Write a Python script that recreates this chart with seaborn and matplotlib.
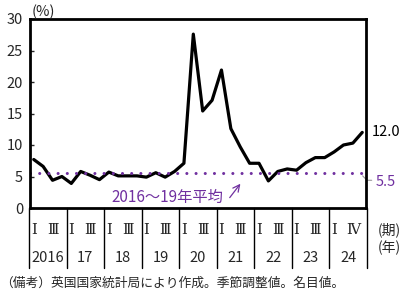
import matplotlib
matplotlib.use("Agg")
import matplotlib.pyplot as plt
import matplotlib.transforms as mtransforms
import seaborn as sns
import pandas as pd
import numpy as np

sns.set_theme(style="white")
plt.rcParams['font.family'] = ['Noto Sans CJK JP', 'DejaVu Sans']

# ---- data ----
years = ["2016", "17", "18", "19", "20", "21", "22", "23", "24"]
quarter_labels = ["Ⅰ", "Ⅲ"]
last_year_quarter_labels = ["Ⅰ", "Ⅳ"]
values = [7.7, 6.6, 4.4, 5.0, 3.9, 5.8, 5.2, 4.5,
          5.7, 5.1, 5.1, 5.1, 4.9, 5.6, 4.9, 5.8,
          7.1, 27.6, 15.4, 17.1, 21.9, 12.6, 9.7, 7.1,
          7.1, 4.3, 5.8, 6.2, 6.0, 7.2, 8.0, 8.0,
          8.9, 10.0, 10.3, 12.0]
average_value = 5.5
average_label = "2016～19年平均"
yticks = [0, 5, 10, 15, 20, 25, 30]
note = "（備考）英国国家統計局により作成。季節調整値。名目値。"

purple = "#7030A0"

df = pd.DataFrame({"t": np.arange(len(values)), "v": values})

fig = plt.figure(figsize=(4.04, 2.95), dpi=100)
ax = fig.add_axes([30/404, 1-208/295, 336/404, 189/295])

sns.lineplot(data=df, x="t", y="v", ax=ax, color="black", lw=2.3)

ax.axhline(average_value, color=purple, lw=2.2,
           linestyle=(0, (0.01, 3.0)), dash_capstyle="round")

ax.set_xlim(-0.4, len(values) - 0.6)
ax.set_ylim(0, 30)
ax.set_yticks(yticks)
ax.set_yticklabels([str(v) for v in yticks], fontsize=10.5)
ax.tick_params(axis="y", direction="in", length=3, width=1, pad=5, left=True)
ax.set_xticks([])
ax.set_xlabel("")
ax.set_ylabel("")
for s in ax.spines.values():
    s.set_linewidth(2.0)
    s.set_color("black")

trans = mtransforms.blended_transform_factory(ax.transData, ax.transAxes)
trans_r = mtransforms.blended_transform_factory(ax.transAxes, ax.transData)

# year separators and labels
for k in range(len(years) + 1):
    ax.plot([4*k - 0.5, 4*k - 0.5], [0, -0.32], transform=trans,
            color="black", lw=1.0, clip_on=False)
for k, y in enumerate(years):
    ax.text(4*k + 1.5, -0.265, y, transform=trans, ha="center", va="center",
            fontsize=10.5)
    ql = last_year_quarter_labels if k == len(years) - 1 else quarter_labels
    qpos = [4*k, 4*k + 2]
    for q, p in zip(ql, qpos):
        ax.text(p, -0.115, q, transform=trans, ha="center", va="center",
                fontsize=10.5, family=["DejaVu Serif"])

ax.text(1.104, -0.115, "(期)", transform=ax.transAxes, ha="right",
        va="center", fontsize=10)
ax.text(1.104, -0.21, "(年)", transform=ax.transAxes, ha="right",
        va="center", fontsize=10)

# annotations
ax.text(0.005, 1.035, "(%)", transform=ax.transAxes, ha="left",
        va="center", fontsize=10.5)
ax.text(1.018, values[-1], f"{values[-1]:.1f}", transform=trans_r,
        ha="left", va="center", fontsize=10.5, color="black")
ax.text(1.03, average_value - 1.4, f"{average_value:.1f}", transform=trans_r,
        ha="left", va="center", fontsize=10.5, color=purple)
ax.plot([0.99, 1.003, 1.017], [average_value - 0.4, average_value - 1.1,
        average_value - 1.1], transform=trans_r, color="#999999", lw=0.8,
        clip_on=False)
ax.text(20.2, 1.6, average_label, ha="right", va="center",
        fontsize=11, color=purple)
ax.annotate("", xy=(22.2, 4.2), xytext=(20.7, 1.3),
            arrowprops=dict(arrowstyle="->", color=purple, lw=0.9))

fig.text(0.0, 1-283/295, note, ha="left", va="center", fontsize=9.2)

fig.savefig("out.png", dpi=100)
